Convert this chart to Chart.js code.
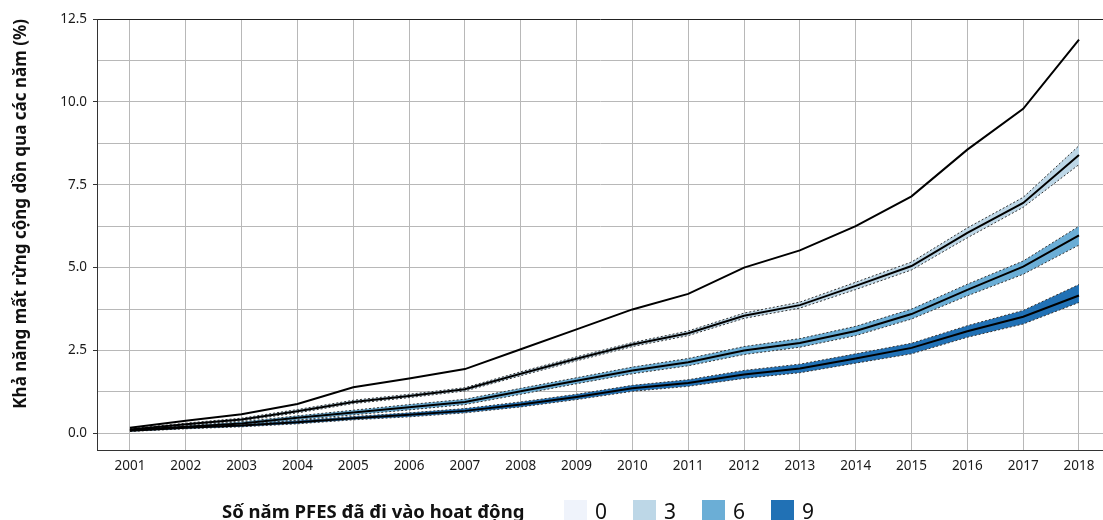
<!DOCTYPE html>
<html>
<head>
<meta charset="utf-8">
<script src="https://cdn.jsdelivr.net/npm/chart.js@4.4.1/dist/chart.umd.min.js"></script>
<style>
html,body{margin:0;padding:0;background:#fff;}
#wrap{position:relative;width:1103px;height:520px;overflow:hidden;}
#c{position:absolute;left:0;top:0;}
#legend{position:absolute;left:222px;top:497px;height:28px;display:flex;align-items:center;font-family:"Noto Sans",sans-serif;color:#111;white-space:nowrap;}
#legTitle{display:inline-block;width:342px;font-weight:bold;font-size:18.5px;line-height:28px;}
.item{display:flex;align-items:center;width:69px;}
.sw{width:23px;height:23px;margin-right:8px;}
.lab{font-size:21px;line-height:28px;}
</style>
</head>
<body>
<div id="wrap">
<canvas id="c" width="1103" height="520"></canvas>
<div id="legend"><span id="legTitle"></span></div>
</div>
<script>
// ---- data ----
const years = [2001,2002,2003,2004,2005,2006,2007,2008,2009,2010,2011,2012,2013,2014,2015,2016,2017,2018];
const yTicks = [0,1.25,2.5,3.75,5,6.25,7.5,8.75,10,11.25,12.5];
const yTickLabels = ['0.0','','2.5','','5.0','','7.5','','10.0','','12.5'];
const yTitle = 'Khả năng mất rừng cộng dồn qua các năm (%)';
const legendTitle = 'Số năm PFES đã đi vào hoat động';
const groupLabels = ['0','3','6','9'];
const groupColors = ['#eff3fb','#bdd7e7','#6baed6','#2171b5'];

const mean0 = [0.17,0.38,0.58,0.89,1.39,1.66,1.94,2.54,3.14,3.74,4.21,5.00,5.52,6.25,7.15,8.56,9.79,11.88];

const mean3  = [0.12,0.28,0.42,0.67,0.95,1.13,1.33,1.80,2.25,2.68,3.02,3.55,3.87,4.45,5.05,6.05,6.95,8.40];
const upper3 = [0.14,0.31,0.46,0.72,1.00,1.18,1.38,1.86,2.31,2.74,3.09,3.63,3.96,4.56,5.17,6.20,7.12,8.68];
const lower3 = [0.10,0.25,0.38,0.62,0.90,1.08,1.28,1.74,2.19,2.62,2.95,3.47,3.78,4.34,4.93,5.90,6.82,8.11];

const mean6  = [0.10,0.20,0.30,0.47,0.63,0.79,0.95,1.27,1.59,1.90,2.15,2.50,2.73,3.09,3.60,4.33,5.03,5.97];
const upper6 = [0.12,0.23,0.35,0.53,0.70,0.87,1.03,1.36,1.68,2.00,2.26,2.62,2.86,3.23,3.75,4.50,5.20,6.25];
const lower6 = [0.08,0.17,0.26,0.41,0.56,0.71,0.87,1.18,1.50,1.80,2.04,2.38,2.60,2.95,3.45,4.15,4.80,5.68];

const mean9  = [0.08,0.17,0.24,0.34,0.46,0.56,0.68,0.87,1.10,1.36,1.52,1.78,1.96,2.26,2.58,3.08,3.52,4.16];
const upper9 = [0.10,0.20,0.28,0.39,0.51,0.62,0.75,0.95,1.18,1.45,1.62,1.90,2.09,2.40,2.72,3.25,3.71,4.49];
const lower9 = [0.06,0.14,0.20,0.29,0.41,0.50,0.62,0.80,1.02,1.27,1.42,1.66,1.83,2.12,2.40,2.90,3.30,3.95];

// ---- build ----
const pts = arr => arr.map((v,i)=>({x:years[i], y:v}));
const FONT = '"Noto Sans", sans-serif';

function bandSets(lower, upper, mean, color){
  return [
    {data:pts(lower), borderColor:'#333', borderWidth:1, borderDash:[2,2], pointRadius:0, fill:false, tension:0, order:3},
    {data:pts(upper), borderColor:'#333', borderWidth:1, borderDash:[2,2], pointRadius:0, fill:'-1', backgroundColor:color, tension:0, order:3},
    {data:pts(mean), borderColor:'#000', borderWidth:2, pointRadius:0, fill:false, tension:0, order:1}
  ];
}

const datasets = [
  {data:pts(mean0), borderColor:'#000', borderWidth:2, pointRadius:0, fill:false, tension:0, order:1},
  ...bandSets(lower3, upper3, mean3, groupColors[1]),
  ...bandSets(lower6, upper6, mean6, groupColors[2]),
  ...bandSets(lower9, upper9, mean9, groupColors[3])
];

new Chart(document.getElementById('c'), {
  type:'line',
  data:{datasets},
  options:{
    responsive:false,
    animation:false,
    devicePixelRatio:1,
    layout:{padding:{top:19,right:0,left:0,bottom:0}},
    plugins:{legend:{display:false}, tooltip:{enabled:false}},
    scales:{
      x:{
        type:'linear', min:2000.41, max:2018.43,
        afterBuildTicks:s=>{ s.ticks = years.map(v=>({value:v})); },
        afterFit:s=>{ s.height = 70; },
        ticks:{callback:v=>String(v), font:{family:FONT,size:13.5}, color:'#1a1a1a', padding:8, maxRotation:0, autoSkip:false},
        grid:{color:'#b8b8b8', lineWidth:1, drawTicks:false},
        border:{color:'#333', width:1}
      },
      y:{
        min:-0.5, max:12.5,
        afterBuildTicks:s=>{ s.ticks = yTicks.map(v=>({value:v})); },
        afterFit:s=>{ s.width = 97; },
        ticks:{callback:(v,i)=>yTickLabels[i], font:{family:FONT,size:13.5}, color:'#1a1a1a', padding:6, autoSkip:false},
        grid:{
          color:ctx=> (ctx.index === yTicks.length-1) ? '#222' : '#b8b8b8',
          tickColor:ctx=> (ctx.index % 2 === 0) ? '#333' : 'rgba(0,0,0,0)',
          tickLength:4, lineWidth:1
        },
        border:{color:'#333', width:1},
        title:{display:true, text:yTitle, align:'end', color:'#111', font:{family:FONT,size:17,weight:'bold'}, padding:{top:11,bottom:0}}
      }
    }
  }
});

// ---- legend ----
document.getElementById('legTitle').textContent = legendTitle;
const leg = document.getElementById('legend');
groupLabels.forEach((l,i)=>{
  const it = document.createElement('div'); it.className='item';
  const sw = document.createElement('div'); sw.className='sw'; sw.style.background = groupColors[i];
  const lb = document.createElement('span'); lb.className='lab'; lb.textContent = l;
  it.appendChild(sw); it.appendChild(lb); leg.appendChild(it);
});
</script>
</body>
</html>
